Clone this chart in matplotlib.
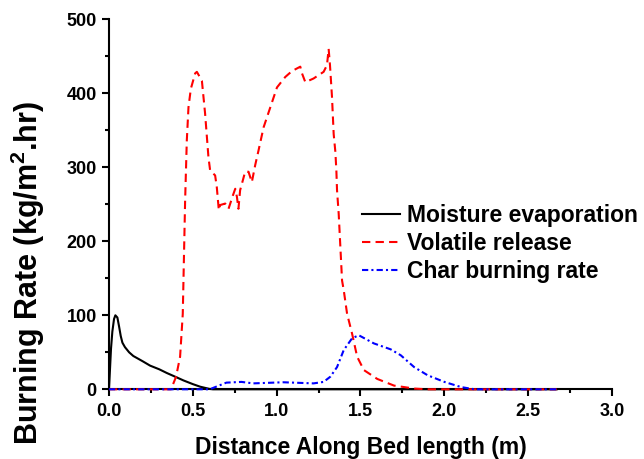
import matplotlib
matplotlib.use("Agg")
import matplotlib.pyplot as plt
from matplotlib.ticker import MultipleLocator

plt.rcParams['font.family'] = ['Liberation Sans', 'DejaVu Sans']
plt.rcParams['font.weight'] = 'bold'
plt.rcParams['mathtext.fontset'] = 'custom'
plt.rcParams['mathtext.rm'] = 'Liberation Sans:bold'
plt.rcParams['mathtext.bf'] = 'Liberation Sans:bold'
plt.rcParams['mathtext.it'] = 'Liberation Sans:bold'

# ---- data ----
moist_x = [0.0, 0.012, 0.02, 0.03, 0.038, 0.05, 0.06, 0.07, 0.08, 0.095, 0.12,
           0.145, 0.2, 0.245, 0.3, 0.345, 0.4, 0.444, 0.5, 0.544, 0.6, 0.62, 2.67]
moist_y = [0, 55, 78, 95, 100, 97, 85, 72, 63, 57, 50,
           45, 38, 32, 27, 22, 16.5, 12, 7, 3.5, 0.5, 0, 0]

vol_x = [0.0, 0.37, 0.40, 0.424, 0.44, 0.454, 0.464, 0.474, 0.488, 0.514, 0.524,
         0.554, 0.573, 0.593, 0.603, 0.633, 0.643, 0.655, 0.663, 0.693, 0.713,
         0.739, 0.753, 0.763, 0.772, 0.782, 0.793, 0.812, 0.832, 0.852, 0.872,
         0.892, 0.922, 0.962, 1.002, 1.051, 1.091, 1.141, 1.151, 1.171, 1.22,
         1.28, 1.30, 1.31, 1.318, 1.33, 1.34, 1.35, 1.356, 1.36, 1.37, 1.38,
         1.39, 1.40, 1.42, 1.45, 1.48, 1.52, 1.60, 1.70, 1.82, 1.9, 2.67]
vol_y = [0, 0, 17, 44, 102, 255, 336, 381, 406, 427, 429,
         417, 373, 314, 296, 289, 273, 242, 249, 251, 244,
         262, 271, 260, 244, 269, 278, 294, 294, 280, 303,
         323, 354, 381, 408, 422, 430, 436, 427, 415, 420,
         429, 438, 460, 438, 395, 345, 321, 296, 269, 237, 192,
         147, 134, 102, 75, 44, 26, 14, 5, 1, 0, 0]

char_x = [0.0, 0.60, 0.70, 0.79, 0.86, 1.04, 1.22, 1.28, 1.32, 1.36, 1.40,
          1.45, 1.49, 1.58, 1.68, 1.74, 1.82, 1.90, 2.0, 2.10, 2.18, 2.67]
char_y = [0, 0, 9, 10, 8, 9.5, 8, 10, 17, 30, 53,
          69, 73, 62, 54, 46, 30, 19, 10, 3, 0, 0]

labels = ['Moisture evaporation', 'Volatile release', 'Char burning rate']
xticks = [0.0, 0.5, 1.0, 1.5, 2.0, 2.5, 3.0]
yticks = [0, 100, 200, 300, 400, 500]

# ---- figure ----
fig = plt.figure(figsize=(6.44, 4.59), dpi=100)
ax = fig.add_axes([109/644, 1-389.3/459, (612-109)/644, 370/459])

ax.plot(moist_x, moist_y, color='black', lw=1.5, label=labels[0], zorder=3, clip_on=False)
ax.plot(vol_x, vol_y, color='red', lw=1.5, ls=(0, (4, 2.5)), label=labels[1], zorder=3, clip_on=False)
ax.plot(char_x, char_y, color='blue', lw=1.5, ls=(0, (3, 1.5, 1, 1.5)), label=labels[2], zorder=3, clip_on=False)

ax.set_xlim(0, 3.0)
ax.set_ylim(0, 500)
ax.set_xticks(xticks)
ax.set_xticklabels([f'{v:.1f}' for v in xticks], fontsize=13, fontweight='bold')
ax.set_yticks(yticks)
ax.set_yticklabels([str(v) for v in yticks], fontsize=13, fontweight='bold')
ax.xaxis.set_minor_locator(MultipleLocator(0.25))
ax.yaxis.set_minor_locator(MultipleLocator(50))

for s in ['top', 'right']:
    ax.spines[s].set_visible(False)
for s in ['left', 'bottom']:
    ax.spines[s].set_linewidth(1.5)

ax.tick_params(which='major', direction='out', length=4.8, width=1.5, pad=4)
ax.tick_params(which='minor', direction='out', length=3, width=1.5)
ax.tick_params(axis='x', which='major', pad=5)

ax.set_xlabel('Distance Along Bed length (m)', fontsize=16.5, fontweight='bold')
ax.xaxis.set_label_coords(0.5, -0.125)
ax.set_ylabel(r'Burning Rate (kg/m$^{2}$.hr)', fontsize=22, fontweight='bold')
ax.yaxis.set_label_coords(-0.123, 0.314)

leg = ax.legend(loc='upper left', bbox_to_anchor=(362/644, 1-204/459),
                bbox_transform=fig.transFigure, frameon=False,
                prop={'size': 16.5, 'weight': 'bold'}, handlelength=1.65,
                handletextpad=0.3, labelspacing=0.21, borderpad=0, borderaxespad=0)

fig.savefig('out.png', dpi=100)
